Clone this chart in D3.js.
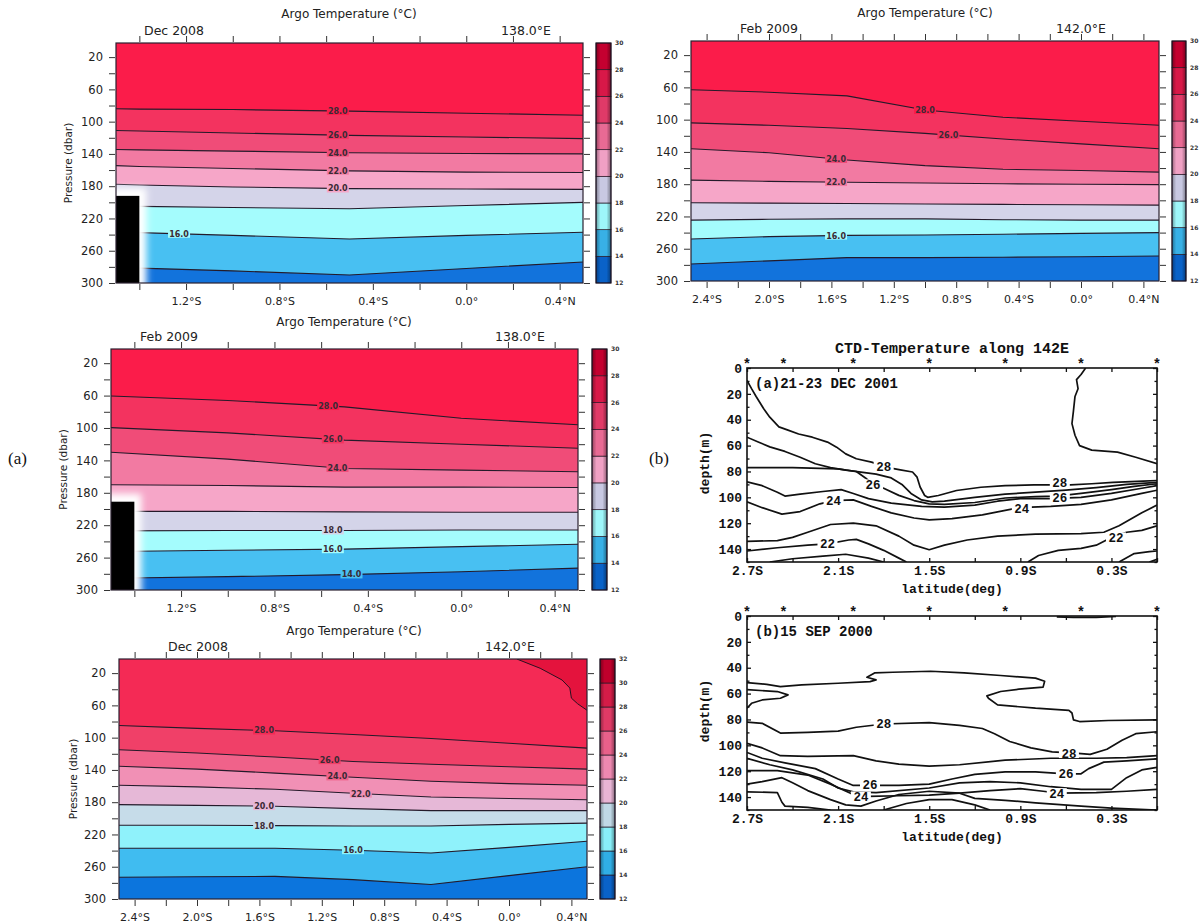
<!DOCTYPE html>
<html><head><meta charset="utf-8">
<script src="https://cdn.jsdelivr.net/npm/d3@7"></script>
<style>body{margin:0;background:#fff} svg{display:block}</style>
</head><body><svg id="c" width="1203" height="924"></svg>
<script>
// ---------------- DATA ----------------
const argoDepthDomain = [2.5, 300];
const levels12to30 = [12,14,16,18,20,22,24,26,28,30];
const levels12to32 = [12,14,16,18,20,22,24,26,28,30,32];
const bandColors30 = ['#1273dc','#48c0f2','#a4fcfd','#d4d4e9','#f6a6c8','#f27aa2','#f04c78','#f3335f','#fb1c4a'];
const cbColors30   = ['#0a62c8','#38b0e6','#9ef6fa','#c8c8e2','#f0a0c4','#e86a94','#e03a68','#d81848','#c40030'];
const bandColors32 = ['#0c75dd','#40bcf0','#8ff2fb','#c6dce9','#e6b8d7','#f190b5','#f0628a','#f04068','#f42a55','#e4133d'];
const cbColors32   = ['#0a62c8','#30aee6','#88eef8','#c0d8e6','#e8b4d4','#ee88b0','#e8608a','#e03a66','#d41c48','#c0002c'];

// Panel: Dec 2008, 138.0E
const a1Lats  = [-1.5,-1.4,-1.0,-0.5,0.0,0.5];
const a1Temps = [28,26,24,22,20,18,16,14];
const a1Depths = [
  [84,84.5,85,87,89.5,92],
  [111,111.5,114,117,119,121],
  [134.5,135,136.5,138.5,139.5,140],
  [154.5,155.5,158,161,162.5,163],
  [177.5,178.5,181,183,183.5,184],
  [205,205,206.5,208,204,200],
  [237.5,237.5,241,245.5,241,237],
  [281.5,281.5,285,290,282,274]];
const a1Labels = [[28,-0.55],[26,-0.55],[24,-0.55],[22,-0.55],[20,-0.55],[16,-1.23]];
const a1Box = {latRight:-1.4, depthTop:192};

// Panel: Feb 2009, 142.0E
const a2Lats  = [-2.5,-2.0,-1.5,-1.0,-0.5,0.0,0.5];
const a2Temps = [28,26,24,22,20,18,16,14];
const a2Depths = [
  [63,66,70.5,88,97,102,107],
  [104,107,111,117,124,130,136],
  [136,141,150,157,161.5,163,165],
  [175,176.5,177.5,178.5,179.5,180,180.5],
  [203,203.5,204,204.5,205,205.5,206],
  [224.5,223.5,223,223,224,224.5,224.5],
  [248,245,243.5,243,242,241,240],
  [279,275,271,271,270.5,270,269]];
const a2Labels = [[28,-1.0],[26,-0.85],[24,-1.57],[22,-1.57],[16,-1.57]];

// Panel: Feb 2009, 138.0E
const a3Lats  = [-1.5,-1.0,-0.5,0.0,0.5];
const a3Temps = [28,26,24,22,20,18,16,14];
const a3Depths = [
  [60.5,66,74,88,96],
  [99.5,106,115,120,125],
  [130,138.5,150,152,154],
  [170,171,173,173,173.5],
  [203,203,203.5,204,204],
  [227,226.5,226.5,226,226],
  [252.5,251,249.5,246.5,243.5],
  [285.5,283.5,281,277.5,273]];
const a3Labels = [[28,-0.57],[26,-0.55],[24,-0.53],[18,-0.55],[16,-0.55],[14,-0.47]];
const a3Box = {latRight:-1.4, depthTop:191};

// Panel: Dec 2008, 142.0E
const a4Lats  = [-2.5,-2.0,-1.5,-1.0,-0.5,0.0,0.5];
const a4Temps = [28,26,24,22,20,18,16,14];
const a4Depths = [
  [85,88.5,91.5,96,101,107,113],
  [115,119,124,129.5,133,136,139],
  [135.5,139,144,149,154,157,159],
  [159,161,164,169,173.5,175.5,177],
  [183,184,185,188,190.5,190.5,190.5],
  [208.5,208.5,209,209.5,209.5,207.5,206],
  [237,237,237,239.5,243,236,228.5],
  [273,272.5,272,276,282,271,260]];
const a4Labels = [[28,-1.57],[26,-1.15],[24,-1.1],[22,-0.95],[20,-1.57],[18,-1.57],[16,-1.0]];
const a4Iso30Lats   = [0.05,0.20,0.34,0.39,0.40,0.44,0.5];
const a4Iso30Depths = [2.5,14,28.5,38.5,51,58,66];

// CTD section (a) 21-23 DEC 2001
const ctdStations = [-2.7,-2.46,-2.0,-1.5,-1.0,-0.5,0.0];
const ctdA_29 = [[-0.47,0],[-0.50,5],[-0.53,9],[-0.52,16],[-0.54,22],[-0.55,33],[-0.56,43],[-0.54,52],[-0.51,60],[-0.43,63.5],[-0.26,65],[-0.14,69],[0,74]];
const ctdA_28 = [[-2.70,9.6],[-2.67,16],[-2.64,22],[-2.59,31.5],[-2.55,38],[-2.49,45.5],[-2.43,48],[-2.36,51],[-2.27,53.5],[-2.17,57.3],[-2.11,61.2],[-2.05,66.4],[-1.98,70.2],[-1.88,72.8],[-1.77,77],[-1.69,78.8],[-1.61,80.4],[-1.58,84.4],[-1.56,92],[-1.53,98.6],[-1.51,100],[-1.44,98.6],[-1.32,94.7],[-1.16,92.2],[-1.0,91],[-0.81,90.4],[-0.57,90.4],[-0.43,89.5],[-0.29,88.5],[-0.09,87.5],[0,87]];
const ctdA_27 = [[-2.7,53.5],[-2.63,57],[-2.55,61],[-2.45,64.5],[-2.35,69],[-2.25,74],[-2.15,77],[-2.05,79],[-1.95,80.5],[-1.85,82],[-1.75,85],[-1.68,90],[-1.62,97],[-1.55,102],[-1.48,103.5],[-1.4,103],[-1.2,100],[-1.0,97.5],[-0.8,96],[-0.6,94.5],[-0.4,92.5],[-0.2,90],[0,88.5]];
const ctdA_26 = [[-2.7,77],[-2.4,77],[-2.1,78],[-1.98,80],[-1.92,85],[-1.87,90],[-1.8,93],[-1.7,98.5],[-1.6,102.5],[-1.5,105],[-1.4,105.5],[-1.2,104],[-1.0,100.5],[-0.8,99.5],[-0.66,99],[-0.5,97],[-0.3,94],[-0.15,91.5],[0,89.5]];
const ctdA_25 = [[-2.7,88],[-2.6,91],[-2.5,96],[-2.45,99],[-2.35,97.5],[-2.2,95.5],[-2.08,94],[-2.0,97],[-1.9,101],[-1.75,104.5],[-1.55,107],[-1.4,107.5],[-1.2,106],[-1.05,103],[-0.9,101],[-0.7,101],[-0.5,100],[-0.3,97],[-0.1,93],[0,91]];
const ctdA_24 = [[-2.7,103.5],[-2.6,108],[-2.47,113],[-2.35,111],[-2.22,105],[-2.13,102.5],[-2.0,102],[-1.88,107],[-1.75,112],[-1.6,116],[-1.5,117.5],[-1.35,116.5],[-1.15,113.5],[-0.91,108],[-0.7,107],[-0.5,105.5],[-0.3,102],[-0.1,97],[0,94.5]];
const ctdA_23 = [[-2.7,134],[-2.5,133.5],[-2.4,131],[-2.3,127],[-2.15,121],[-2.0,120],[-1.85,122],[-1.7,130],[-1.6,137],[-1.5,140.5],[-1.4,137],[-1.25,133],[-1.05,130],[-0.8,128.5],[-0.5,128],[-0.35,127],[-0.25,122],[-0.1,112],[0,106]];
const ctdA_22 = [[-2.7,141.5],[-2.5,139],[-2.3,137],[-2.17,136],[-2.03,133],[-1.98,132.5],[-1.9,136],[-1.8,141],[-1.7,147],[-1.65,150]];
const ctdA_22b = [[-0.85,150],[-0.78,145],[-0.65,141],[-0.5,139.5],[-0.4,137],[-0.3,131],[-0.2,127],[-0.1,125.5],[0,122]];
const ctdA_21 = [[-2.55,150],[-2.4,147.5],[-2.2,145.5],[-2.05,144],[-1.9,147],[-1.8,150]];
const ctdA_21b = [[-0.25,150],[-0.15,143.5],[-0.05,142],[0,141.5]];
const ctdA_20 = [[-0.05,150],[0,148]];
const ctdA_labels = [[28,-1.80,76],[26,-1.87,90],[24,-2.13,102.5],[22,-2.17,136],[28,-0.64,88.5],[26,-0.64,100],[24,-0.89,108.5],[22,-0.27,131]];

// CTD section (b) 15 SEP 2000
const ctdB_29 = [[-2.7,51.5],[-2.57,52.8],[-2.48,54.6],[-2.34,53.3],[-2.10,52],[-1.89,50.7],[-1.85,49.4],[-1.91,47.4],[-1.86,44],[-1.74,43.5],[-1.49,42.7],[-1.27,44],[-1.03,46],[-0.80,48],[-0.74,50.5],[-0.75,55],[-0.91,56.6],[-1.03,58.4],[-1.12,61.8],[-1.11,63.6],[-1.05,68.7],[-0.80,71.3],[-0.58,73],[-0.56,75],[-0.55,80.3],[-0.51,81.6],[-0.32,80.8],[0,80.3]];
const ctdB_29lobe = [[-2.7,57],[-2.50,58.4],[-2.43,61],[-2.48,63.6],[-2.60,64.9],[-2.67,67.5],[-2.7,71.3]];
const ctdB_29top = [[-0.66,0.6],[-0.55,1],[-0.4,1],[-0.27,0.3]];
const ctdB_28 = [[-2.7,82],[-2.6,83],[-2.48,90.5],[-2.3,90],[-2.1,89],[-1.98,86],[-1.8,83.5],[-1.5,82.5],[-1.3,84.5],[-1.15,87],[-1.07,91],[-0.97,97],[-0.83,102],[-0.69,105],[-0.54,106],[-0.44,107],[-0.33,103],[-0.23,96],[-0.14,91],[0,89.5]];
const ctdB_27 = [[-2.7,98.5],[-2.6,102],[-2.48,108],[-2.3,108.5],[-2.0,108],[-1.85,112],[-1.7,114.5],[-1.5,116],[-1.3,115],[-1.0,111.5],[-0.7,110],[-0.4,110],[-0.2,109.5],[0,108]];
const ctdB_26 = [[-2.7,105.5],[-2.6,110],[-2.45,113.5],[-2.25,118],[-2.1,126],[-2.0,131],[-1.9,131],[-1.7,131],[-1.5,130],[-1.35,126],[-1.2,122.5],[-1.0,120.5],[-0.8,120.5],[-0.6,122],[-0.5,122],[-0.45,118],[-0.35,113],[-0.2,112],[0,110.5]];
const ctdB_25 = [[-2.7,110],[-2.55,115],[-2.4,119],[-2.2,126],[-2.1,133],[-2.0,136],[-1.85,136.5],[-1.5,133],[-1.3,129],[-1.1,128],[-0.9,129],[-0.7,132],[-0.5,134],[-0.3,134],[-0.2,125],[-0.1,119],[0,117]];
const ctdB_24 = [[-2.7,119.5],[-2.5,119.5],[-2.3,123],[-2.15,130],[-2.0,138],[-1.9,139.5],[-1.7,139],[-1.5,138.5],[-1.3,137],[-1.1,135],[-0.9,133.5],[-0.75,135.5],[-0.65,137],[-0.4,136.5],[-0.2,135.5],[0,134]];
const ctdB_23 = [[-2.7,130],[-2.6,128],[-2.47,125],[-2.4,129],[-2.3,135],[-2.15,142],[-2.05,146],[-1.95,147],[-1.85,143],[-1.7,138],[-1.5,135.5],[-1.3,137],[-1.2,141],[-1.0,142.5],[-0.8,144.5],[-0.5,147],[-0.3,148.5],[0,150]];
const ctdB_22 = [[-2.7,136],[-2.5,136.5],[-2.47,144],[-2.45,147],[-2.3,148],[-2.15,150]];
const ctdB_22b = [[-1.8,150],[-1.65,145],[-1.5,142],[-1.35,142],[-1.2,146],[-1.1,150]];
const ctdB_labels = [[28,-1.80,83.5],[28,-0.58,106],[26,-1.89,130],[26,-0.60,122],[24,-1.95,139.5],[24,-0.66,137]];

// ---------------- DRAWING ----------------
const svg = d3.select('#c');
const defs = svg.append('defs');
defs.append('filter').attr('id','blur').attr('x','-50%').attr('y','-50%').attr('width','200%').attr('height','200%')
  .append('feGaussianBlur').attr('stdDeviation',3.5);
const gr = defs.append('linearGradient').attr('id','cbshade').attr('x1','0').attr('x2','1').attr('y1','0').attr('y2','0');
[[0,0.35],[0.3,0],[0.7,0],[1,0.4]].forEach(([o,a])=>gr.append('stop').attr('offset',o).attr('stop-color','#000').attr('stop-opacity',a));

const ARGO_FONT = 'DejaVu Sans, Verdana, sans-serif';
const latFmt = d => { const v = Math.round(d*10)/10; return v < 0 ? `${Math.abs(v).toFixed(1)}°S` : v > 0 ? `${v.toFixed(1)}°N` : '0.0°'; };

function drawArgo(p) {
  const g = svg.append('g');
  const x = d3.scaleLinear().domain(p.xDomain).range([p.x, p.x + p.w]);
  const y = d3.scaleLinear().domain(argoDepthDomain).range([p.y, p.y + p.h]);
  const clipId = 'clip' + p.id;
  defs.append('clipPath').attr('id', clipId).append('rect')
    .attr('x', p.x).attr('y', p.y).attr('width', p.w).attr('height', p.h);
  const plot = g.append('g').attr('clip-path', `url(#${clipId})`);
  const colorFor = t => p.colors[(t - p.levels[0]) / 2];

  plot.append('rect').attr('x', p.x).attr('y', p.y).attr('width', p.w).attr('height', p.h)
    .attr('fill', colorFor(p.temps[0]));
  p.temps.forEach((t, k) => {
    const area = d3.area().x((d, i) => x(p.lats[i])).y0(d => y(d)).y1(y(argoDepthDomain[1]) + 2);
    plot.append('path').attr('d', area(p.depths[k])).attr('fill', colorFor(t - 2));
  });
  if (p.iso30) {
    const pts = p.iso30.depths;
    const area = d3.area().x((d, i) => x(p.iso30.lats[i])).y0(p.y - 2).y1(d => y(d));
    plot.append('path').attr('d', area(pts)).attr('fill', colorFor(30));
    plot.append('path').attr('d', d3.line().x((d,i)=>x(p.iso30.lats[i])).y(d=>y(d))(pts))
      .attr('fill','none').attr('stroke','#2a1020').attr('stroke-width',1);
  }
  const line = d3.line().x((d, i) => x(p.lats[i])).y(d => y(d));
  p.temps.forEach((t, k) => {
    plot.append('path').attr('d', line(p.depths[k])).attr('fill', 'none')
      .attr('stroke', '#241a2a').attr('stroke-width', 1.1);
  });
  p.labels.forEach(([t, lat]) => {
    const k = p.temps.indexOf(t);
    const dep = d3.scaleLinear().domain(p.lats).range(p.depths[k])(lat);
    const cx = x(lat), cy = y(dep);
    plot.append('rect').attr('x', cx - 11).attr('y', cy - 4).attr('width', 22).attr('height', 8)
      .attr('fill', colorFor(t));
    plot.append('text').attr('x', cx).attr('y', cy + 3).attr('text-anchor', 'middle')
      .attr('font-family', ARGO_FONT).attr('font-size', 8).attr('font-weight', 'bold')
      .attr('fill', '#3a2a35').text(t.toFixed(1));
  });
  if (p.box) {
    plot.append('rect').attr('x', p.x - 10).attr('y', y(p.box.depthTop) - 8)
      .attr('width', x(p.box.latRight) - p.x + 17).attr('height', p.h)
      .attr('fill', '#fff').attr('filter', 'url(#blur)');
    plot.append('rect').attr('x', p.x).attr('y', y(p.box.depthTop))
      .attr('width', x(p.box.latRight) - p.x).attr('height', y(300) - y(p.box.depthTop) + 2)
      .attr('fill', '#000');
  }
  g.append('rect').attr('x', p.x).attr('y', p.y).attr('width', p.w).attr('height', p.h)
    .attr('fill', 'none').attr('stroke', '#2a2030').attr('stroke-width', 1.2);

  const yTicks = d3.range(20, 301, 20);
  const styleAxis = sel => {
    sel.select('.domain').remove();
    sel.selectAll('line').attr('stroke', '#333').attr('stroke-width', 1);
    sel.selectAll('text').attr('font-family', ARGO_FONT).attr('fill', '#222');
  };
  g.append('g').attr('transform', `translate(${p.x - 1},0)`)
    .call(d3.axisLeft(y).tickValues(yTicks).tickSize(6).tickPadding(6)
      .tickFormat(d => (d % 40 === 20 ? d : '')))
    .call(styleAxis).selectAll('text').attr('font-size', 11.5);
  g.append('g').attr('transform', `translate(${p.x + p.w + 1},0)`)
    .call(d3.axisRight(y).tickValues(yTicks).tickSize(6).tickFormat(''))
    .call(styleAxis);
  const xt = p.xTicks;
  g.append('g').attr('transform', `translate(0,${p.y + p.h + 1})`)
    .call(d3.axisBottom(x).tickValues(xt).tickSize(6).tickPadding(7)
      .tickFormat(d => (Math.round(Math.abs(d) * 10) % 4 === 0 ? latFmt(d) : '')))
    .call(styleAxis).selectAll('text').attr('font-size', 11);
  g.append('g').attr('transform', `translate(0,${p.y - 1})`)
    .call(d3.axisTop(x).tickValues(xt).tickSize(6).tickFormat(''))
    .call(styleAxis);

  g.append('text').attr('x', p.titleX).attr('y', p.titleY).attr('text-anchor', 'middle')
    .attr('font-family', ARGO_FONT).attr('font-size', 12).attr('fill', '#222')
    .text('Argo Temperature (°C)');
  g.append('text').attr('x', p.dateX).attr('y', p.subY).attr('text-anchor', 'middle')
    .attr('font-family', ARGO_FONT).attr('font-size', 12.5).attr('fill', '#222').text(p.date);
  g.append('text').attr('x', p.lonX).attr('y', p.subY).attr('text-anchor', 'middle')
    .attr('font-family', ARGO_FONT).attr('font-size', 12.5).attr('fill', '#222').text(p.lon);
  if (p.yLabelX) {
    g.append('text').attr('transform', `translate(${p.yLabelX},${p.y + p.h / 2}) rotate(-90)`)
      .attr('text-anchor', 'middle').attr('dy', '0.35em')
      .attr('font-family', ARGO_FONT).attr('font-size', 10.5).attr('fill', '#222')
      .text('Pressure (dbar)');
  }

  const cy = d3.scaleLinear().domain([p.levels[0], p.levels[p.levels.length - 1]]).range([p.y + p.h, p.y]);
  const cb = g.append('g');
  p.cbColors.forEach((c, i) => {
    const lo = p.levels[i], hi = p.levels[i + 1];
    cb.append('rect').attr('x', p.cbx).attr('y', cy(hi)).attr('width', p.cbw).attr('height', cy(lo) - cy(hi))
      .attr('fill', c).attr('stroke', '#2a1a2a').attr('stroke-width', 0.7);
  });
  cb.append('rect').attr('x', p.cbx).attr('y', p.y).attr('width', p.cbw).attr('height', p.h)
    .attr('fill', 'url(#cbshade)').attr('stroke', '#1a1020').attr('stroke-width', 1);
  p.levels.forEach(l => {
    cb.append('text').attr('x', p.cbx + p.cbw + 4).attr('y', cy(l) + 2)
      .attr('font-family', ARGO_FONT).attr('font-size', 6).attr('font-weight', 'bold')
      .attr('fill', '#333').text(l);
  });
}

const ticksA = d3.range(-14, 5, 2).map(v => v / 10);
const ticksB = d3.range(-24, 5, 2).map(v => v / 10);

drawArgo({id:'a1', x:116, y:43, w:467, h:240, xDomain:[-1.5,0.5], xTicks:ticksA,
  lats:a1Lats, temps:a1Temps, depths:a1Depths, labels:a1Labels, box:a1Box,
  levels:levels12to30, colors:bandColors30, cbColors:cbColors30, cbx:596, cbw:15,
  titleX:349, titleY:18, dateX:174, lon:'138.0°E', lonX:526, subY:35, date:'Dec 2008', yLabelX:68});
drawArgo({id:'a2', x:691, y:41, w:468, h:240, xDomain:[-2.5,0.5], xTicks:ticksB,
  lats:a2Lats, temps:a2Temps, depths:a2Depths, labels:a2Labels,
  levels:levels12to30, colors:bandColors30, cbColors:cbColors30, cbx:1172, cbw:14,
  titleX:925, titleY:17, dateX:769, lon:'142.0°E', lonX:1081, subY:33, date:'Feb 2009'});
drawArgo({id:'a3', x:111, y:349, w:467, h:241, xDomain:[-1.5,0.5], xTicks:ticksA,
  lats:a3Lats, temps:a3Temps, depths:a3Depths, labels:a3Labels, box:a3Box,
  levels:levels12to30, colors:bandColors30, cbColors:cbColors30, cbx:592, cbw:15,
  titleX:344, titleY:326, dateX:169, lon:'138.0°E', lonX:520, subY:341, date:'Feb 2009', yLabelX:63});
drawArgo({id:'a4', x:119, y:659, w:468, h:240, xDomain:[-2.5,0.5], xTicks:ticksB,
  lats:a4Lats, temps:a4Temps, depths:a4Depths, labels:a4Labels,
  iso30:{lats:a4Iso30Lats, depths:a4Iso30Depths},
  levels:levels12to32, colors:bandColors32, cbColors:cbColors32, cbx:600, cbw:15,
  titleX:354, titleY:635, dateX:198, lon:'142.0°E', lonX:510, subY:651, date:'Dec 2008', yLabelX:73});

// ---------------- CTD ----------------
const CTD_FONT = 'Liberation Mono, DejaVu Sans Mono, monospace';
function drawCTD(p) {
  const g = svg.append('g');
  const x = d3.scaleLinear().domain([-2.7, 0]).range([747, 1157]);
  const y = d3.scaleLinear().domain([0, 150]).range([p.y, p.y + 194]);
  const clipId = 'clip' + p.id;
  defs.append('clipPath').attr('id', clipId).append('rect')
    .attr('x', 747).attr('y', p.y).attr('width', 410).attr('height', 194);
  const plot = g.append('g').attr('clip-path', `url(#${clipId})`);
  const line = d3.line().x(d => x(d[0])).y(d => y(d[1]));
  p.lines.forEach(l => plot.append('path').attr('d', line(l)).attr('fill', 'none')
    .attr('stroke', '#111').attr('stroke-width', 1.7).attr('stroke-linejoin', 'round'));
  p.labels.forEach(([t, lat, dep]) => {
    plot.append('rect').attr('x', x(lat) - 10).attr('y', y(dep) - 5).attr('width', 20).attr('height', 10).attr('fill', '#fff');
    plot.append('text').attr('x', x(lat)).attr('y', y(dep) + 4.5).attr('text-anchor', 'middle')
      .attr('font-family', CTD_FONT).attr('font-weight', 'bold').attr('font-size', 12.5).attr('fill', '#111').text(t);
  });
  g.append('rect').attr('x', 747).attr('y', p.y).attr('width', 410).attr('height', 194)
    .attr('fill', 'none').attr('stroke', '#111').attr('stroke-width', 1.6);
  const style = sel => {
    sel.select('.domain').remove();
    sel.selectAll('line').attr('stroke', '#111').attr('stroke-width', 1.3);
    sel.selectAll('text').attr('font-family', CTD_FONT).attr('font-weight', 'bold').attr('font-size', 13).attr('fill', '#111');
  };
  const yMaj = d3.range(0, 141, 20), yMin = d3.range(10, 151, 20);
  g.append('g').attr('transform', 'translate(747,0)')
    .call(d3.axisLeft(y).tickValues(yMaj).tickSize(-4).tickPadding(5)).call(style);
  g.append('g').attr('transform', 'translate(747,0)')
    .call(d3.axisLeft(y).tickValues(yMin).tickSize(-2.5).tickFormat('')).call(style);
  g.append('g').attr('transform', 'translate(1157,0)')
    .call(d3.axisRight(y).tickValues(yMaj).tickSize(-4).tickFormat('')).call(style);
  g.append('g').attr('transform', 'translate(1157,0)')
    .call(d3.axisRight(y).tickValues(yMin).tickSize(-2.5).tickFormat('')).call(style);
  const xt = d3.range(-27, 1, 3).map(v => v / 10);
  g.append('g').attr('transform', `translate(0,${p.y + 194})`)
    .call(d3.axisBottom(x).tickValues(xt).tickSize(-4).tickPadding(4)
      .tickFormat(d => ((Math.round(-d * 10) - 3) % 6 === 0 ? `${Math.abs(d).toFixed(1)}S` : ''))).call(style);
  g.append('g').attr('transform', `translate(0,${p.y})`)
    .call(d3.axisTop(x).tickValues(xt).tickSize(-4).tickFormat('')).call(style);
  ctdStations.forEach(s => g.append('text').attr('x', x(s)).attr('y', p.y + 1).attr('text-anchor', 'middle')
    .attr('font-family', CTD_FONT).attr('font-weight', 'bold').attr('font-size', 14).attr('fill', '#111').text('*'));
  g.append('text').attr('x', 755).attr('y', p.y + 20).attr('font-family', CTD_FONT).attr('font-weight', 'bold')
    .attr('font-size', 14).attr('fill', '#111').text(p.tag);
  g.append('text').attr('x', 952).attr('y', p.y + 225).attr('text-anchor', 'middle')
    .attr('font-family', CTD_FONT).attr('font-weight', 'bold').attr('font-size', 13).attr('fill', '#111')
    .text('latitude(deg)');
  g.append('text').attr('transform', `translate(704,${p.y + 95}) rotate(-90)`).attr('text-anchor', 'middle')
    .attr('dy', '0.35em').attr('font-family', CTD_FONT).attr('font-weight', 'bold').attr('font-size', 13)
    .attr('fill', '#111').text('depth(m)');
}
drawCTD({id:'ca', y:368, tag:'(a)21-23 DEC 2001',
  lines:[ctdA_29,ctdA_28,ctdA_27,ctdA_26,ctdA_25,ctdA_24,ctdA_23,ctdA_22,ctdA_22b,ctdA_21,ctdA_21b,ctdA_20],
  labels:ctdA_labels});
drawCTD({id:'cb', y:616, tag:'(b)15 SEP 2000',
  lines:[ctdB_29,ctdB_29lobe,ctdB_29top,ctdB_28,ctdB_27,ctdB_26,ctdB_25,ctdB_24,ctdB_23,ctdB_22,ctdB_22b],
  labels:ctdB_labels});
svg.append('text').attr('x', 952).attr('y', 353).attr('text-anchor', 'middle')
  .attr('font-family', CTD_FONT).attr('font-weight', 'bold').attr('font-size', 15).attr('fill', '#111')
  .text('CTD-Temperature along 142E');

svg.append('text').attr('x', 8).attr('y', 464).attr('font-family', 'Liberation Serif, Times New Roman, serif')
  .attr('font-size', 17).attr('fill', '#111').text('(a)');
svg.append('text').attr('x', 649).attr('y', 464).attr('font-family', 'Liberation Serif, Times New Roman, serif')
  .attr('font-size', 17).attr('fill', '#111').text('(b)');
</script></body></html>
